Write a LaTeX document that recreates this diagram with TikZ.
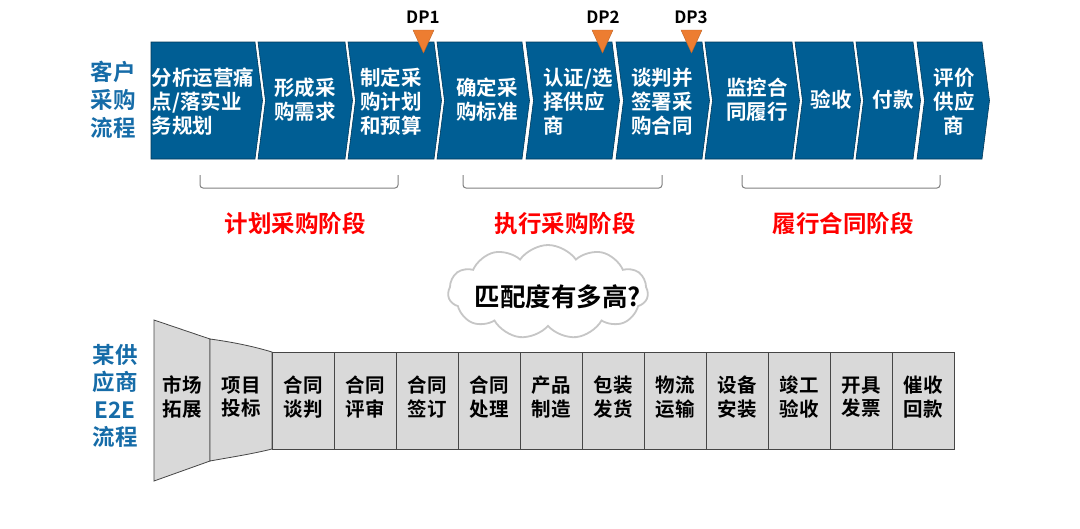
\documentclass[tikz,border=0pt]{standalone}
\usepackage{fontspec}
\setmainfont{Noto Sans CJK SC}[BoldFont={Noto Sans CJK SC Bold}]
\usetikzlibrary{shapes.symbols}
\definecolor{chev}{RGB}{0,94,148}
\definecolor{lblue}{RGB}{22,108,168}
\definecolor{dporange}{RGB}{237,125,49}
\definecolor{stagered}{RGB}{255,0,0}
\definecolor{boxfill}{RGB}{217,217,217}
\definecolor{boxline}{RGB}{70,70,70}
\definecolor{brk}{RGB}{128,128,128}
\newcommand\mychevron[3]{\draw[chevshape] (#1,42) -- (#2,42) -- (#2+7.5,100.5) -- (#2,159) -- (#1,159) -- (#1+#3,100.5) -- cycle;}
\begin{document}
\begin{tikzpicture}[x=1pt,y=-1pt,
  chevshape/.style={fill=chev, draw=chev!60!black, line width=0.6pt},
  chevtext/.style={text=white, font=\bfseries\fontsize{20.5}{24}\selectfont, align=left, inner sep=0pt},
  sidelabel/.style={text=lblue, font=\bfseries\fontsize{22.5}{28}\selectfont, align=center, inner sep=0pt},
  dptext/.style={text=black, font=\bfseries\fontsize{17}{19}\selectfont, inner sep=0pt},
  dptri/.style={fill=dporange, draw=dporange!80!black, line width=0.4pt},
  bracketline/.style={draw=brk, line width=1pt, rounded corners=3pt},
  stagetext/.style={text=stagered, font=\bfseries\fontsize{23.5}{26}\selectfont, inner sep=0pt},
  boxshape/.style={fill=boxfill, draw=boxline, line width=0.8pt},
  boxtext/.style={text=black, font=\bfseries\fontsize{19.5}{23.5}\selectfont, align=center, inner sep=0pt},
  cloudshape/.style={cloud, cloud puffs=11, cloud puff arc=110, aspect=2.1, draw=gray!45, line width=1.8pt, fill=white, minimum width=200pt, minimum height=94pt},
  cloudtext/.style={text=black, font=\bfseries\fontsize{25.5}{28}\selectfont, inner sep=0pt}]
\useasboundingbox (0,0) rectangle (1080,528);

% ---- top chevrons ----
\mychevron{151}{255}{0}
\mychevron{258}{345}{7.5}
\mychevron{348}{434}{7.5}
\mychevron{437}{522}{7.5}
\mychevron{526}{612}{7.5}
\mychevron{616}{702}{7.5}
\mychevron{705}{792}{7.5}
\mychevron{795}{853}{7.5}
\mychevron{856}{913}{7.5}
\mychevron{917}{982}{7.5}

\node[chevtext] (c1) at (203,102) {分析运营痛\\点/落实业\\务规划};
\node[chevtext] (c2) at (305,100) {形成采\\购需求};
\node[chevtext] (c3) at (391,102) {制定采\\购计划\\和预算};
\node[chevtext] (c4) at (487,100) {确定采\\购标准};
\node[chevtext] (c5) at (578,102) {认证/选\\择供应\\商};
\node[chevtext] (c6) at (662,102) {谈判并\\签署采\\购合同};
\node[chevtext] (c7) at (757,100) {监控合\\同履行};
\node[chevtext] (c8) at (831,100) {验收};
\node[chevtext] (c9) at (893,100) {付款};
\node[chevtext, align=center] (c10) at (954,102) {评价\\供应\\商};

% ---- decision points ----
\draw[dptri] (413,30) -- (434,30) -- (423.5,53) -- cycle;
\draw[dptri] (592,30) -- (613,30) -- (602.5,53) -- cycle;
\draw[dptri] (681,30) -- (702,30) -- (691.5,53) -- cycle;
\node[dptext] (dp1) at (423,17) {DP1};
\node[dptext] (dp2) at (603,17) {DP2};
\node[dptext] (dp3) at (691,17) {DP3};

% ---- side labels ----
\node[sidelabel] (cust) at (113,100) {客户\\采购\\流程};
\node[sidelabel, font=\bfseries\fontsize{22.5}{27.6}\selectfont] (supp) at (115,396) {某供\\应商\\E2E\\流程};

% ---- brackets ----
\draw[bracketline] (200,175) -- (200,188) -- (398,188) -- (398,175);
\draw[bracketline] (463,175) -- (463,188) -- (662,188) -- (662,175);
\draw[bracketline] (742,175) -- (742,188) -- (940,188) -- (940,175);

\node[stagetext] (s1) at (295,223) {计划采购阶段};
\node[stagetext] (s2) at (565,223) {执行采购阶段};
\node[stagetext] (s3) at (843,223) {履行合同阶段};

% ---- cloud ----
\node[cloudshape] (cloud) at (548,292) {};
\node[cloudtext] (q) at (558,297) {匹配度有多高?};

% ---- supplier E2E ----
\draw[boxshape] (154,320) -- (210,339) -- (210,461) -- (154,481) -- cycle;
\draw[boxshape] (210,339) .. controls (232,342) and (252,346) .. (272,352) -- (272,449) .. controls (252,454) and (232,457) .. (210,461) -- cycle;
\node[boxtext] (m1) at (182,397) {市场\\拓展};
\node[boxtext] (m2) at (241,397) {项目\\投标};
\foreach \t [count=\i] in {合同\\谈判, 合同\\评审, 合同\\签订, 合同\\处理, 产品\\制造, 包装\\发货, 物流\\运输, 设备\\安装, 竣工\\验收, 开具\\发票, 催收\\回款}{
  \draw[boxshape] (272+62*\i-62,352) rectangle ++(62,97);
  \node[boxtext] (b\i) at (272+62*\i-31,397) {\t};
}
\end{tikzpicture}
\end{document}
